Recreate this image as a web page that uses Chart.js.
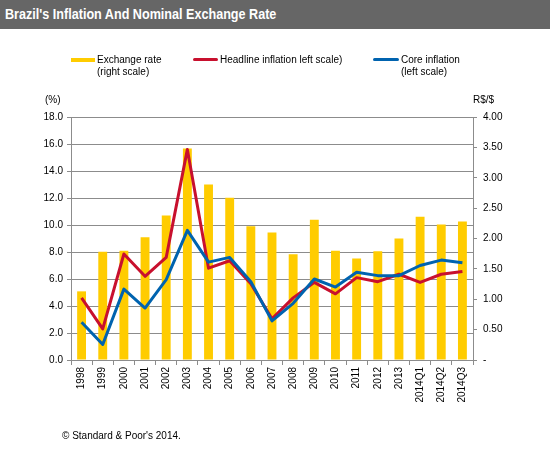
<!DOCTYPE html>
<html>
<head>
<meta charset="utf-8">
<script src="https://cdn.jsdelivr.net/npm/chart.js@4.4.1/dist/chart.umd.min.js"></script>
<style>
    body { margin: 0; background: #fff; font-family: "Liberation Sans", Arial, sans-serif; }
    #wrap { position: relative; width: 550px; height: 451px; overflow: hidden; }
    #chart { position: absolute; left: 0; top: 0; }
    .titlebar { position: absolute; left: 0; top: 0; width: 550px; height: 29px; background: #666666; }
    .titlebar span { position: absolute; left: 5px; top: 5px; color: #fff; font-weight: bold; font-size: 15px;
        font-family: "Liberation Sans", Arial, sans-serif; white-space: nowrap;
        transform: scaleX(0.84); transform-origin: left center; }
    .txt { position: absolute; font-size: 10px; color: #000; line-height: 12px; white-space: nowrap; }
    .swatch { position: absolute; height: 4px; }
</style>
</head>
<body>
<div id="wrap">
    <canvas id="chart" width="550" height="451"></canvas>
    <div class="titlebar"><span>Brazil's Inflation And Nominal Exchange Rate</span></div>

    <div class="swatch" style="left:71px; top:58px; width:24px; background:#FFCC00;"></div>
    <div class="txt" style="left:97px; top:54px;">Exchange rate<br>(right scale)</div>
    <div class="swatch" style="left:193px; top:58px; width:25px; height:3px; background:#C8102E; border-radius:2px;"></div>
    <div class="txt" style="left:220px; top:54px;">Headline inflation left scale)</div>
    <div class="swatch" style="left:373px; top:58px; width:26px; height:3px; background:#0063AF; border-radius:2px;"></div>
    <div class="txt" style="left:401px; top:54px;">Core inflation<br>(left scale)</div>

    <div class="txt" style="left:45px; top:94px;">(%)</div>
    <div class="txt" style="left:473px; top:94px;">R$/$</div>
    <div class="txt" style="left:62px; top:430px;">© Standard &amp; Poor's 2014.</div>
</div>

<script>
    const categories = ['1998', '1999', '2000', '2001', '2002', '2003', '2004', '2005', '2006', '2007',
        '2008', '2009', '2010', '2011', '2012', '2013', '2014Q1', '2014Q2', '2014Q3'];

    // R$ per US$ (right scale)
    const exchangeRate = [1.13, 1.78, 1.80, 2.02, 2.38, 3.48, 2.89, 2.67, 2.20, 2.10,
        1.74, 2.31, 1.80, 1.67, 1.79, 2.00, 2.36, 2.23, 2.28];

    // % (left scale)
    const headlineInflation = [4.6, 2.3, 7.85, 6.2, 7.6, 15.6, 6.8, 7.35, 5.65, 3.05,
        4.6, 5.75, 4.9, 6.1, 5.8, 6.35, 5.75, 6.35, 6.55];
    const coreInflation = [2.8, 1.15, 5.25, 3.85, 5.95, 9.6, 7.25, 7.6, 5.8, 2.9,
        4.2, 6.0, 5.4, 6.5, 6.25, 6.25, 7.0, 7.4, 7.2];

    const leftTicks = { min: 0, max: 18, step: 2 };
    const rightTicks = { min: 0, max: 4, step: 0.5 };

    const tickFont = { family: '"Liberation Sans", Arial, sans-serif', size: 10 };
    const gridGray = '#8c8c8c';

    const ctx = document.getElementById('chart').getContext('2d');

    new Chart(ctx, {
        type: 'bar',
        data: {
            labels: categories,
            datasets: [
                {
                    type: 'line',
                    label: 'Core inflation',
                    data: coreInflation,
                    yAxisID: 'yLeft',
                    borderColor: '#0063AF',
                    borderWidth: 3,
                    borderJoinStyle: 'round',
                    pointRadius: 0,
                    tension: 0,
                    order: 1
                },
                {
                    type: 'line',
                    label: 'Headline inflation',
                    data: headlineInflation,
                    yAxisID: 'yLeft',
                    borderColor: '#C8102E',
                    borderWidth: 3,
                    borderJoinStyle: 'round',
                    pointRadius: 0,
                    tension: 0,
                    order: 2
                },
                {
                    type: 'bar',
                    label: 'Exchange rate',
                    data: exchangeRate,
                    yAxisID: 'yRight',
                    backgroundColor: '#FFCC00',
                    barPercentage: 0.42,
                    categoryPercentage: 1,
                    order: 3
                }
            ]
        },
        options: {
            responsive: false,
            animation: false,
            layout: { padding: { top: 117, left: 0, right: 0, bottom: 0 } },
            plugins: {
                legend: { display: false },
                tooltip: { enabled: false }
            },
            scales: {
                x: {
                    offset: true,
                    grid: { display: true, drawOnChartArea: false, drawTicks: true, tickLength: 5, color: gridGray, offset: true },
                    border: { color: gridGray },
                    ticks: { font: tickFont, color: '#000', minRotation: 90, maxRotation: 90, autoSkip: false, padding: 2 },
                    afterFit: (scale) => { scale.height = 91; }
                },
                yLeft: {
                    position: 'left',
                    min: leftTicks.min,
                    max: leftTicks.max,
                    grid: { color: gridGray, tickLength: 4 },
                    border: { color: gridGray },
                    ticks: { stepSize: leftTicks.step, font: tickFont, color: '#000', padding: 4,
                        callback: (v) => v.toFixed(1) },
                    afterFit: (scale) => { scale.width = 71; }
                },
                yRight: {
                    position: 'right',
                    min: rightTicks.min,
                    max: rightTicks.max,
                    grid: { drawOnChartArea: false, color: gridGray, tickLength: 4 },
                    border: { color: gridGray },
                    ticks: { stepSize: rightTicks.step, font: tickFont, color: '#000', padding: 6,
                        callback: (v) => v === 0 ? '-' : v.toFixed(2) },
                    afterFit: (scale) => { scale.width = 77; }
                }
            }
        }
    });
</script>
</body>
</html>
